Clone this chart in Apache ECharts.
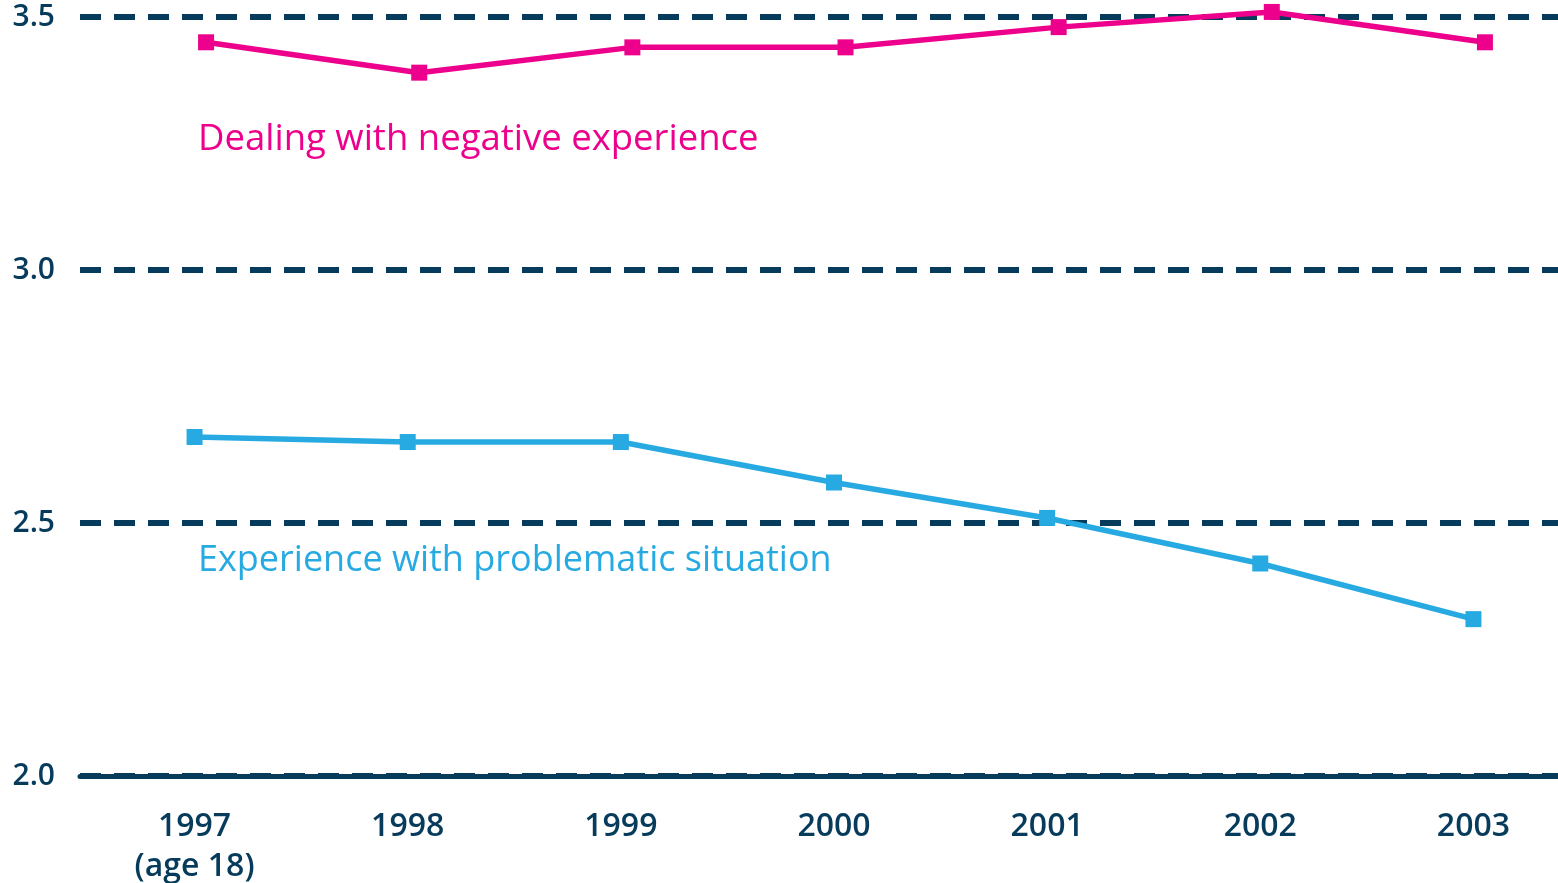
<!DOCTYPE html>
<html>
<head>
<meta charset="utf-8">
<script src="https://cdn.jsdelivr.net/npm/echarts@6/dist/echarts.min.js"></script>
<style>
  html, body { margin: 0; padding: 0; background: #fff; }
  #chart { width: 1558px; height: 883px; }
</style>
</head>
<body>
<div id="chart"></div>
<script>
// 数据
var years = ["1997\n(age 18)", "1998", "1999", "2000", "2001", "2002", "2003"];
var yTicks = [2.0, 2.5, 3.0, 3.5];
var negativeExperience = [3.45, 3.39, 3.44, 3.44, 3.48, 3.51, 3.45]; // Dealing with negative experience
var problemSituation = [2.67, 2.66, 2.66, 2.58, 2.51, 2.42, 2.31]; // Experience with problematic situation

var navy = "#073b5c";
var pink = "#ec008c";
var blue = "#27aae1";
var font = "Open Sans";

var myChart = echarts.init(document.getElementById("chart"));

// 三个网格：坐标轴/网格线、蓝线、粉线（粉线略向右错开）
var grids = [
    { left: 80, right: 0, top: 17, bottom: 107, outerBoundsMode: "none" },
    { left: 88, width: 1492, top: 17, bottom: 107, outerBoundsMode: "none" },
    { left: 99.5, width: 1492, top: 17, bottom: 107, outerBoundsMode: "none" }
];

function hiddenY(idx) {
    return {
        type: "value", gridIndex: idx, min: yTicks[0], max: yTicks[yTicks.length - 1],
        show: false, splitLine: { show: false }
    };
}

var option = {
    animation: false,
    backgroundColor: "#ffffff",
    grid: grids,
    xAxis: [
        {
            type: "category", gridIndex: 0, data: years,
            axisLine: { show: true, lineStyle: { color: navy, width: 5 } },
            axisTick: { show: false },
            axisLabel: { show: false }
        },
        {
            type: "category", gridIndex: 1, data: years,
            axisLine: { show: false },
            axisTick: { show: false },
            axisLabel: {
                color: navy, fontFamily: font, fontSize: 32, fontWeight: 600,
                margin: 31, lineHeight: 40
            }
        },
        { type: "category", gridIndex: 2, data: years, show: false }
    ],
    yAxis: [
        {
            type: "value", gridIndex: 0, min: 2.0, max: 3.5, interval: 0.5,
            axisLine: { show: false },
            axisTick: { show: false },
            axisLabel: {
                color: navy, fontFamily: font, fontSize: 30, fontWeight: 600, margin: 25,
                formatter: function (v) { return v.toFixed(1); }
            },
            splitLine: {
                show: true,
                lineStyle: { color: navy, width: 6, type: [21, 13] }
            }
        },
        hiddenY(1),
        hiddenY(2)
    ],
    series: [
        {
            name: "Experience with problematic situation",
            type: "line", xAxisIndex: 1, yAxisIndex: 1,
            data: problemSituation, clip: false,
            symbol: "rect", symbolSize: 16,
            lineStyle: { color: blue, width: 5.5 },
            itemStyle: { color: blue }
        },
        {
            name: "Dealing with negative experience",
            type: "line", xAxisIndex: 2, yAxisIndex: 2,
            data: negativeExperience, clip: false,
            symbol: "rect", symbolSize: 16,
            lineStyle: { color: pink, width: 5.5 },
            itemStyle: { color: pink }
        }
    ],
    graphic: [
        {
            type: "text", left: 198, top: 121,
            style: { text: "Dealing with negative experience", fill: pink, font: "500 36.5px '" + font + "'" }
        },
        {
            type: "text", left: 198, top: 543,
            style: { text: "Experience with problematic situation", fill: blue, font: "500 36px '" + font + "'" }
        }
    ]
};

myChart.setOption(option);
</script>
</body>
</html>
